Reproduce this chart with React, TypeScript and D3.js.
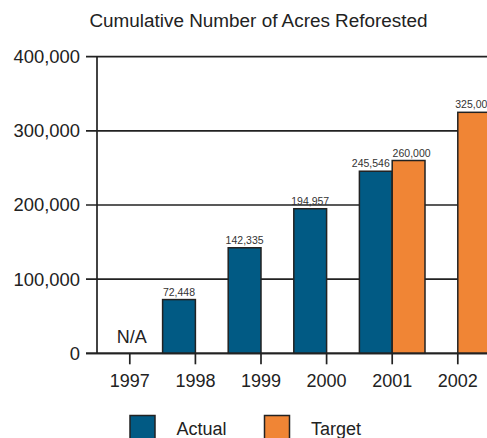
import React from "react";
import * as d3 from "d3";

const years = ["1997", "1998", "1999", "2000", "2001", "2002"];
const actualValues: (number | null)[] = [null, 72448, 142335, 194957, 245546, null];
const targetValues: (number | null)[] = [null, null, null, null, 260000, 325000];
const yTicks = [0, 100000, 200000, 300000, 400000];
const seriesNames = ["Actual", "Target"];
const seriesColors = ["#015a84", "#f08535"];
const naLabel = "N/A";
const title = "Cumulative Number of Acres Reforested";

const W = 487;
const H = 438;
const FONT = "'Liberation Sans', Arial, Helvetica, sans-serif";
const INK = "#222";

export default function App() {
  const left = 97;
  const step = 65.6;
  const x = d3.scaleBand<string>().domain(years).range([left, left + step * years.length]).paddingInner(0).paddingOuter(0);
  const sub = d3.scaleBand<string>().domain(seriesNames).range([0, x.bandwidth()]).padding(0);
  const y = d3.scaleLinear().domain([0, 400000]).range([353.3, 56.7]);
  const fmt = d3.format(",");
  const gridRight = W + 5;

  const series = [actualValues, targetValues];

  return (
    <svg width={W} height={H} style={{ position: "absolute", left: 0, top: 0, background: "#fff" }} fontFamily={FONT}>
      <text x={258.5} y={27} textAnchor="middle" fontSize={18.9} fill="#222">{title}</text>

      {/* gridlines & y ticks */}
      {yTicks.map((t) => (
        <g key={t}>
          <line x1={86} x2={gridRight} y1={y(t)} y2={y(t)} stroke={INK} strokeWidth={1.7} />
          <text x={80} y={y(t)} dy="0.35em" textAnchor="end" fontSize={18.4} fill="#222">{fmt(t)}</text>
        </g>
      ))}

      {/* bars */}
      {series.map((vals, si) =>
        vals.map((v, i) => {
          if (v == null) return null;
          const bx = (x(years[i]) as number) + (sub(seriesNames[si]) as number);
          const bw = sub.bandwidth();
          // when both series share a category, labels are pushed apart a little
          const shared = actualValues[i] != null && targetValues[i] != null;
          const nudge = shared ? (si === 0 ? -5 : 3) : 0;
          return (
            <g key={`${si}-${i}`}>
              <rect x={bx} y={y(v)} width={bw} height={y(0) - y(v)} fill={seriesColors[si]} stroke={INK} strokeWidth={1.5} />
              <text x={bx + bw / 2 + nudge} y={y(v) - 4} textAnchor="middle" fontSize={10.5} fill="#333">{fmt(v)}</text>
            </g>
          );
        })
      )}

      {/* axes */}
      <line x1={left} x2={left} y1={y(400000)} y2={y(0)} stroke={INK} strokeWidth={1.7} />
      <line x1={86} x2={gridRight} y1={y(0)} y2={y(0)} stroke={INK} strokeWidth={1.7} />
      {years.map((yr) => {
        const cx = (x(yr) as number) + x.bandwidth() / 2;
        return (
          <g key={yr}>
            <line x1={cx} x2={cx} y1={y(0)} y2={y(0) + 11} stroke={INK} strokeWidth={1.7} />
            <text x={cx} y={387} textAnchor="middle" fontSize={18} fill="#222">{yr}</text>
          </g>
        );
      })}

      <text x={(x(years[0]) as number) + x.bandwidth() / 2 + 2} y={343} textAnchor="middle" fontSize={18} fill="#222">{naLabel}</text>

      {/* legend */}
      {seriesNames.map((name, i) => {
        const lx = i === 0 ? 130 : 264.5;
        return (
          <g key={name}>
            <rect x={lx} y={415.5} width={25} height={26} fill={seriesColors[i]} stroke={INK} strokeWidth={1.5} />
            <text x={lx + 46.5} y={435} fontSize={18} fill="#222">{name}</text>
          </g>
        );
      })}
    </svg>
  );
}
